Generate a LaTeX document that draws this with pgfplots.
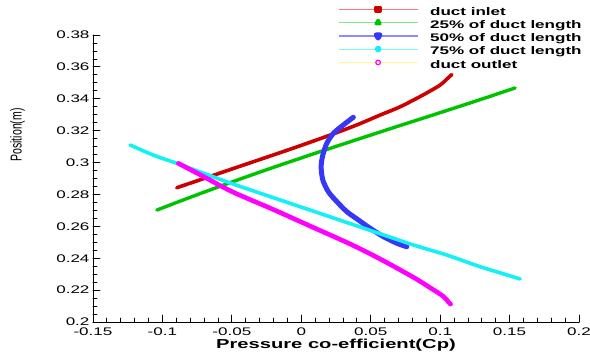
\documentclass[border=0pt]{standalone}
\usepackage{fontspec}
\setmainfont{Liberation Sans}[FakeStretch=1.55]
\newfontfamily\plainsans{Liberation Sans}
\usepackage{graphicx}
\usepackage{pgfplots}
\pgfplotsset{compat=1.18}

\definecolor{cinlet}{RGB}{205,0,0}
\definecolor{cquarter}{RGB}{0,195,0}
\definecolor{chalf}{RGB}{55,55,250}
\definecolor{cthree}{RGB}{20,240,245}
\definecolor{coutlet}{RGB}{255,0,255}
\definecolor{pinlet}{RGB}{240,120,120}
\definecolor{pquarter}{RGB}{130,230,130}
\definecolor{phalf}{RGB}{140,140,255}
\definecolor{pthree}{RGB}{120,250,250}
\definecolor{poutlet}{RGB}{255,250,140}

\begin{document}
\begin{tikzpicture}
\begin{axis}[
  name=ax,
  scale only axis, width=486pt, height=287pt,
  xmin=-0.15, xmax=0.2, ymin=0.2, ymax=0.38,
  axis x line*=bottom, axis y line*=left,
  axis line style={black, line width=1pt},
  xtick={-0.15,-0.1,-0.05,0,0.05,0.1,0.15,0.2},
  ytick={0.2,0.22,0.24,0.26,0.28,0.3,0.32,0.34,0.36,0.38},
  minor x tick num=4, minor y tick num=3,
  tick align=inside,
  major tick length=7pt, minor tick length=4pt,
  tick style={black, line width=0.8pt},
  scaled ticks=false,
  /pgf/number format/assume math mode=true,
  /pgf/number format/fixed,
  /pgf/number format/precision=2,
  ticklabel style={font=\fontsize{11}{13}\selectfont},
  xticklabel style={yshift=-2pt},
  xlabel={\fontsize{13}{15}\selectfont\bfseries Pressure co-efficient(Cp)},
  xlabel style={at={(axis description cs:0.5,-0.0906)}, anchor=base},
  ylabel={\plainsans\fontsize{10.5}{12}\selectfont\scalebox{1}[1.5]{Position(m)}},
  ylabel style={at={(axis description cs:-0.155,0.652)}, anchor=center},
  legend cell align=left,
  legend style={
    at={(axis description cs:0.504,1.0993)}, anchor=north west,
    draw=none, fill=none, inner sep=0pt, outer sep=0pt,
    row sep=1.8pt,
    font=\fontsize{11}{13}\selectfont\bfseries,
    nodes={inner sep=0pt, text height=8.5pt, text depth=3pt},
  },
  line join=round, line cap=round,
]

% duct inlet
\addplot[cinlet, line width=3.6pt, smooth,
  legend image code/.code={
    \draw[pinlet, line width=1.3pt] (0pt,3pt) -- (79pt,3pt);
    \path (89pt,3pt);
    \draw[cinlet, mark=square*, mark size=1.8pt] plot coordinates {(39.5pt,3pt)};
  }] coordinates {
  (-0.0897,0.2842) (-0.0657,0.2913) (-0.0441,0.2977) (-0.0200,0.3048)
  (0.0000,0.3108) (0.0200,0.3170) (0.0400,0.3236) (0.0568,0.3298)
  (0.0700,0.3345) (0.0808,0.3392) (0.0900,0.3435) (0.1000,0.3486)
  (0.1050,0.3525) (0.1084,0.3552)
};
\addlegendentry{duct inlet}

% 25% of duct length
\addplot[cquarter, line width=3.4pt, smooth,
  legend image code/.code={
    \draw[pquarter, line width=1.3pt] (0pt,3pt) -- (79pt,3pt);
    \path (89pt,3pt);
    \draw[cquarter, mark=triangle*, mark size=2.2pt] plot coordinates {(39.5pt,3pt)};
  }] coordinates {
  (-0.1040,0.2702) (-0.0800,0.2782) (-0.0500,0.2878) (-0.0200,0.2970)
  (0.0100,0.3058) (0.0400,0.3144) (0.0700,0.3229) (0.1000,0.3313)
  (0.1300,0.3398) (0.1540,0.3468)
};
\addlegendentry{25\% of duct length}

% 50% of duct length
\addplot[chalf, line width=5pt, smooth,
  legend image code/.code={
    \draw[phalf, line width=1.3pt] (0pt,3pt) -- (79pt,3pt);
    \path (89pt,3pt);
    \draw[chalf, mark=triangle*, mark options={rotate=180}, mark size=2.2pt] plot coordinates {(39.5pt,3pt)};
  }] coordinates {
  (0.0375,0.3284) (0.0303,0.3236) (0.0231,0.3183) (0.0184,0.3121)
  (0.0155,0.3047) (0.0143,0.2974) (0.0155,0.2891) (0.0195,0.2817)
  (0.0256,0.2755) (0.0328,0.2692) (0.0411,0.2640) (0.0496,0.2588)
  (0.0592,0.2535) (0.0688,0.2494) (0.0760,0.2472)
};
\addlegendentry{50\% of duct length}

% 75% of duct length
\addplot[cthree, line width=3.6pt, smooth,
  legend image code/.code={
    \draw[pthree, line width=1.3pt] (0pt,3pt) -- (79pt,3pt);
    \path (89pt,3pt);
    \draw[cthree, mark=*, mark size=1.8pt] plot coordinates {(39.5pt,3pt)};
  }] coordinates {
  (-0.1233,0.3110) (-0.1066,0.3047) (-0.0897,0.2995) (-0.0585,0.2895)
  (-0.0480,0.2862) (0.0063,0.2702) (0.0400,0.2603) (0.0808,0.2483)
  (0.1048,0.2420) (0.1288,0.2347) (0.1576,0.2270)
};
\addlegendentry{75\% of duct length}

% duct outlet
\addplot[coutlet, line width=4.6pt, smooth,
  legend image code/.code={
    \draw[poutlet, line width=1.3pt] (0pt,3pt) -- (79pt,3pt);
    \path (89pt,3pt);
    \draw[coutlet, line width=1.2pt, mark=o, mark size=2.3pt] plot coordinates {(39.5pt,3pt)};
  }] coordinates {
  (-0.0885,0.2995) (-0.0706,0.2913) (-0.0500,0.2818) (-0.0200,0.2705)
  (0.0063,0.2602) (0.0350,0.2490) (0.0568,0.2395) (0.0808,0.2280)
  (0.0928,0.2215) (0.1024,0.2160) (0.1060,0.2125) (0.1075,0.2112)
};
\addlegendentry{duct outlet}

\end{axis}
% fixed page frame around the axis and its labels
\pgfresetboundingbox
\path[use as bounding box] ([xshift=-93pt,yshift=-32pt]ax.south west)
  rectangle ([xshift=11pt,yshift=35pt]ax.north east);
\end{tikzpicture}
\end{document}
